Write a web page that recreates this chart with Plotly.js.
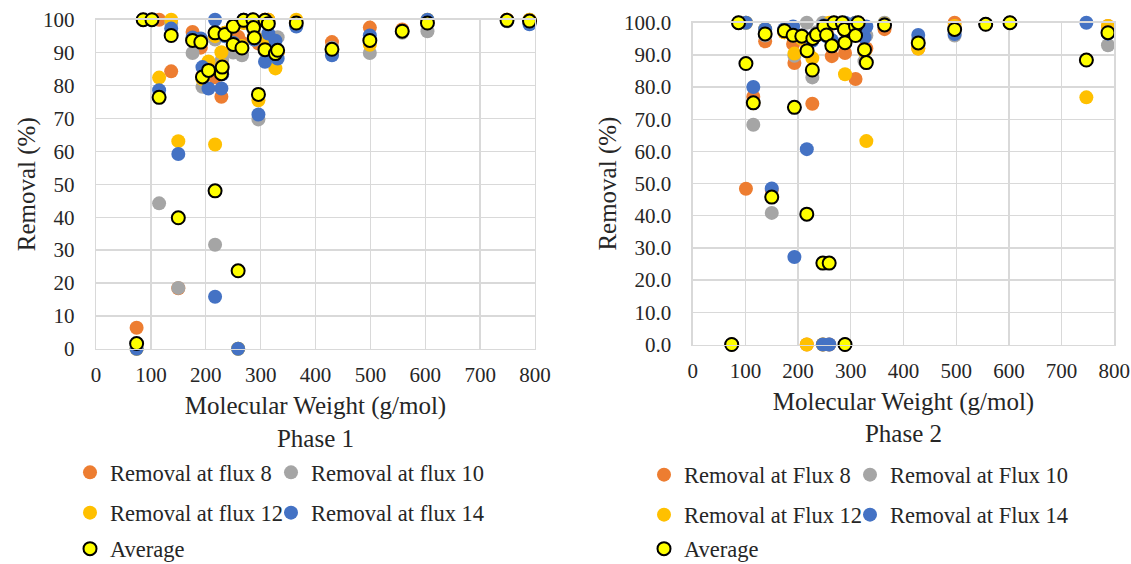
<!DOCTYPE html>
<html><head><meta charset="utf-8">
<script src="https://cdn.plot.ly/plotly-3.0.1.min.js"></script>
<style>html,body{margin:0;padding:0;background:#fff}#chart{width:1131px;height:564px}</style>
</head><body><div id="chart"></div>
<script>
// ---------- Phase 1 ----------
const mw1 = [74, 86, 102, 115, 137, 150, 176, 191, 194, 205, 217, 217, 228.5, 230, 235, 250, 250, 259, 266, 269, 286, 287, 288.5, 296, 308, 308, 314, 327, 331, 365, 430, 499, 558, 604, 749, 790];
const flux8_p1 = [6.4, 100, 100, 100, 84.3, 18.4, 96.3, 91.5, 83, 86, 95, 82.5, 76.6, 85, 96, 98, 94, 94.8, 93, 100, 100, 98, 95, 92.8, 100, 92, 100, 91, 90, 99.5, 93.2, 97.6, 97, 99.5, 100, 99.8];
const flux10_p1 = [0, 100, 100, 44.2, 99, 18.5, 89.9, 93, 79.6, 86, 94, 31.6, 87.2, 88, 95, 98, 90, 0, 89.2, 100, 100, 97, 94, 69.7, 99.5, 90.5, 99, 89, 94.7, 98.5, 91.5, 89.9, 96, 96.5, 99.5, 100];
const flux12_p1 = [0, 100, 100, 82.4, 100, 63.1, 94, 94, 82, 87.3, 95, 62.1, 90.1, 86, 96, 98, 93, 0, 92, 99, 100, 98, 95, 75.5, 100, 94, 100, 85.2, 90, 100, 89.5, 92.4, 96.5, 100, 100, 100];
const flux14_p1 = [0, 100, 100, 78.6, 97.3, 59.2, 94.6, 94.3, 85.6, 79.1, 100, 15.8, 79.1, 83.4, 95, 98, 93, 0, 91.4, 100, 100, 97.4, 94, 71.2, 99.7, 87.2, 95.8, 93.6, 88.2, 97.9, 89.2, 95.2, 96.5, 100, 99.7, 98.6];
const avg_p1 = [1.6, 100, 100, 76.4, 95.2, 39.8, 93.7, 93.2, 82.6, 84.6, 96, 48, 83.6, 85.6, 95.5, 98, 92.5, 23.7, 91.4, 99.8, 100, 97.6, 94.5, 77.3, 99.8, 90.9, 98.8, 89.7, 90.7, 99, 91, 93.7, 96.5, 99, 99.8, 99.6];

// ---------- Phase 2 ----------
const mw2 = [74, 87, 101, 115, 137.5, 150, 174, 190.5, 193, 207, 216.5, 217, 227, 228, 235, 247, 249, 254, 259, 264, 268, 284, 288, 289, 289, 309, 309, 314, 326, 329.5, 364, 428, 497, 556, 602, 747, 788];
const flux8_p2 = [0, 100, 48.4, 77, 94.2, 48, 97, 93.4, 87.5, 96, 0, 92, 74.8, 95, 96, 0, 99, 97, 0, 89.6, 100, 100, 98, 90.6, 0, 99, 82.5, 100, 92, 92, 98, 92, 100, 99.5, 100, 88.4, 99];
const flux10_p2 = [0, 100, 100, 68.3, 96, 40.9, 98, 96, 89.7, 96, 100, 91, 83, 95, 97, 100, 98, 96, 0, 94, 100, 100, 98, 100, 0, 99, 100, 100, 88, 96, 100, 94.6, 96, 99.5, 100, 88.4, 93];
const flux12_p2 = [0, 100, 100, 75, 98, 45.8, 97, 96, 90.4, 95, 0, 91, 89, 95, 96, 0, 99, 96, 100, 93, 100, 100, 97.6, 84, 0, 98.5, 100, 100, 91, 63.2, 99.7, 92, 99, 99.5, 100, 76.8, 99];
const flux14_p2 = [0, 100, 100, 80, 98, 48.5, 98, 98.8, 27.2, 96, 60.7, 91.2, 94.4, 95.4, 96.2, 0, 99.2, 95.8, 0, 94.6, 100, 100, 98, 100, 0, 98.7, 100, 100, 95.5, 98.8, 99.5, 96.2, 96.5, 99.5, 100, 100, 96.6];
const avg_p2 = [0, 100, 87.3, 75.1, 96.5, 45.8, 97.5, 96.1, 73.7, 95.8, 40.5, 91.3, 85.3, 95.1, 96.3, 25.3, 98.8, 96.2, 25.3, 92.8, 100, 100, 97.9, 93.8, 0, 98.8, 96, 100, 91.6, 87.6, 99.3, 93.7, 97.9, 99.5, 100, 88.4, 96.9];

const names1 = ['Removal at flux 8', 'Removal at flux 10', 'Removal at flux 12', 'Removal at flux 14', 'Average'];
const names2 = ['Removal at Flux 8', 'Removal at Flux 10', 'Removal at Flux 12', 'Removal at Flux 14', 'Average'];
const xTicks = [0, 100, 200, 300, 400, 500, 600, 700, 800];
const yTicks = [0, 10, 20, 30, 40, 50, 60, 70, 80, 90, 100];

const colors = ['#ED7D31', '#A5A5A5', '#FFC000', '#4472C4'];
const FONT = 'Liberation Serif, Times New Roman, serif';
const TXT = '#262626';

function series(x, y, name, color, xa, ya, leg) {
  return {type: 'scatter', mode: 'markers', x: x, y: y, name: name, xaxis: xa, yaxis: ya, legend: leg,
    cliponaxis: false, marker: {color: color, size: 14, line: {width: 0}}};
}
function average(x, y, name, xa, ya, leg) {
  return {type: 'scatter', mode: 'markers', x: x, y: y, name: name, xaxis: xa, yaxis: ya, legend: leg,
    cliponaxis: false, marker: {color: '#FFFF00', size: 13, line: {color: '#000000', width: 2}}};
}

const p1 = [flux8_p1, flux10_p1, flux12_p1, flux14_p1];
const p2 = [flux8_p2, flux10_p2, flux12_p2, flux14_p2];
const data = [];
const legs1 = ['legend', 'legend2', 'legend3', 'legend4', 'legend5'];
const legs2 = ['legend6', 'legend7', 'legend8', 'legend9', 'legend10'];
for (let i = 0; i < 4; i++) data.push(series(mw1, p1[i], names1[i], colors[i], 'x', 'y', legs1[i]));
data.push(average(mw1, avg_p1, names1[4], 'x', 'y', legs1[4]));
for (let i = 0; i < 4; i++) data.push(series(mw2, p2[i], names2[i], colors[i], 'x2', 'y2', legs2[i]));
data.push(average(mw2, avg_p2, names2[4], 'x2', 'y2', legs2[4]));

const W = 1131, H = 564;
function axisBase() {
  return {showgrid: true, gridcolor: '#D9D9D9', gridwidth: 1.3, zeroline: false,
    showline: true, mirror: true, linecolor: '#D9D9D9', linewidth: 1.3, ticks: '',
    tickfont: {family: FONT, size: 21, color: TXT}, automargin: false, fixedrange: true};
}
function xAxis(dom, phase) {
  return Object.assign(axisBase(), {domain: dom, range: [0, 800], tickvals: xTicks, ticktext: xTicks.map(String),
    ticklabelstandoff: 7,
    title: {text: 'Molecular Weight (g/mol)<br>' + phase, font: {family: FONT, size: 25, color: TXT}, standoff: 10}});
}
function yAxis(dom, anchor, fmt) {
  return Object.assign(axisBase(), {domain: dom, anchor: anchor, range: [0, 100], tickvals: yTicks,
    ticktext: yTicks.map(v => fmt ? v.toFixed(1) : String(v)), ticklabelstandoff: 16,
    title: {text: 'Removal (%)', font: {family: FONT, size: 25, color: TXT}, standoff: 0}});
}
function leg(xpx, ypx) {
  return {x: xpx / W, y: (H - ypx) / H, xanchor: 'left', yanchor: 'middle', orientation: 'h',
    bgcolor: 'rgba(0,0,0,0)', borderwidth: 0,
    font: {family: FONT, size: 22.5, color: TXT}};
}
const L1 = 70, L2 = 271, R1 = 644, R2 = 850;
const rowsL = [472.7, 513, 549], rowsR = [475, 515, 549];

const layout = {
  width: W, height: H, margin: {l: 0, r: 0, t: 0, b: 0, pad: 0, autoexpand: false},
  paper_bgcolor: '#FFFFFF', plot_bgcolor: '#FFFFFF',
  font: {family: FONT, color: TXT},
  xaxis: Object.assign(xAxis([96 / W, 535 / W], 'Phase 1'), {anchor: 'y'}),
  yaxis: yAxis([(H - 348.8) / H, (H - 19.7) / H], 'x', false),
  xaxis2: Object.assign(xAxis([692.7 / W, 1114.3 / W], 'Phase 2'), {anchor: 'y2'}),
  yaxis2: yAxis([(H - 344.5) / H, (H - 22.7) / H], 'x2', true),
  legend: leg(L1, rowsL[0]),
  legend2: leg(L2, rowsL[0]),
  legend3: leg(L1, rowsL[1]),
  legend4: leg(L2, rowsL[1]),
  legend5: leg(L1, rowsL[2]),
  legend6: leg(R1, rowsR[0]),
  legend7: leg(R2, rowsR[0]),
  legend8: leg(R1, rowsR[1]),
  legend9: leg(R2, rowsR[1]),
  legend10: leg(R1, rowsR[2]),
  showlegend: true
};

Plotly.newPlot('chart', data, layout, {displayModeBar: false, staticPlot: true});
</script></body></html>
